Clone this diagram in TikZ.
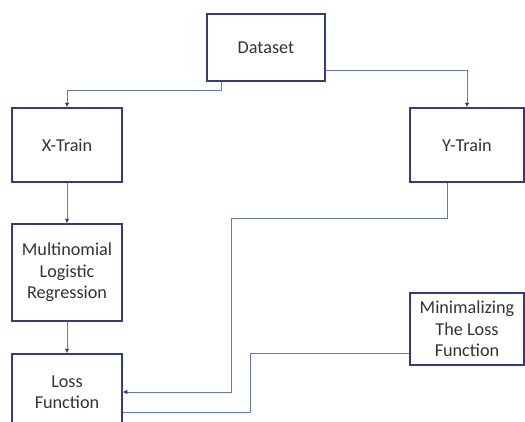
\documentclass[tikz,border=0pt]{standalone}
\usepackage{fontspec}
\setmainfont{Carlito}
\usetikzlibrary{arrows.meta}
\definecolor{boxline}{HTML}{333A88}
\definecolor{conn}{HTML}{6677C4}
\definecolor{tip}{HTML}{2A3799}
\definecolor{txt}{HTML}{333333}
\tikzset{
  blk/.style={draw=boxline, line width=1.5pt, fill=white, align=center, inner sep=0pt,
    text=txt, font=\fontsize{18.2}{21.5}\selectfont},
  conline/.style={draw=conn, line width=0.9pt},
  arr/.style={conline, -{Latex[length=4.5pt,width=4.5pt,color=tip]}}
}
\begin{document}
\begin{tikzpicture}[x=1pt,y=-1pt]
\useasboundingbox (0,0) rectangle (525,421);
\clip (0,0) rectangle (525,421);
\fill[white] (0,0) rectangle (525,421);
\node[blk, minimum width=118pt, minimum height=67pt] (ds) at (266,47.5) {Dataset};
\node[blk, minimum width=110pt, minimum height=74pt] (xt) at (67,145) {X-Train};
\node[blk, minimum width=114pt, minimum height=74pt] (yt) at (467,145) {Y-Train};
\node[blk, minimum width=110pt, minimum height=97pt] (mlr) at (67,272.5) {Multinomial\\Logistic\\Regression};
\node[blk, minimum width=110pt, minimum height=76pt] (loss) at (67,392) {Loss\\Function};
\node[blk, minimum width=114pt, minimum height=72pt] (min) at (467,329) {Minimalizing\\The Loss\\Function};
\draw[arr] ([xshift=15pt]ds.south west) -- ++(0,9) -| (xt.north);
\draw[arr] ([yshift=11pt]ds.south east) -| (yt.north);
\draw[arr] (xt.south) -- (mlr.north);
\draw[arr] (mlr.south) -- (loss.north);
\draw[arr] ([xshift=-20pt]yt.south) -- ++(0,36) -| ([xshift=109pt]loss.east) -- (loss.east);
\draw[conline] ([yshift=-24pt]min.west) -| ([xshift=128pt,yshift=-20pt]loss.east) -- ([yshift=-20pt]loss.east);
\end{tikzpicture}
\end{document}
